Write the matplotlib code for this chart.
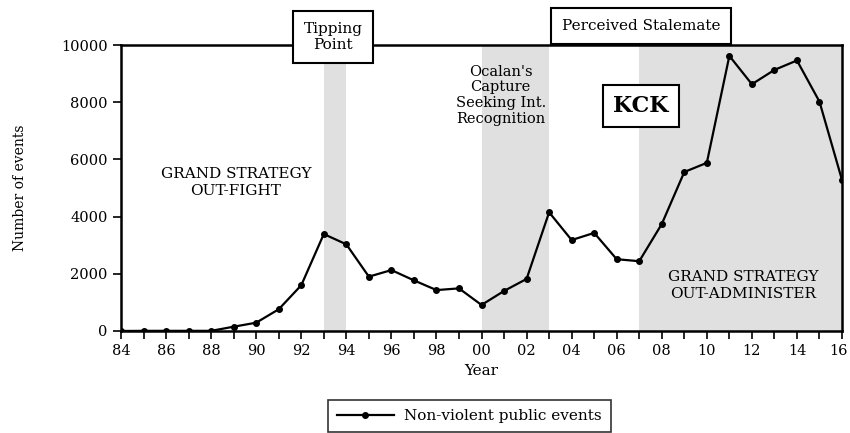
import matplotlib.pyplot as plt
from matplotlib.transforms import ScaledTranslation

# data
years = list(range(1984, 2017))
events = [0, 5, 5, 5, 5, 150, 290, 760, 1600, 3390, 3030, 1900, 2130, 1770,
          1430, 1490, 910, 1400, 1820, 4150, 3180, 3430, 2510, 2440, 3740,
          5560, 5880, 9620, 8630, 9130, 9460, 8020, 5280]
shaded_periods = [(1993, 1994), (2000, 2003), (2007, 2016)]
y_ticks = [0, 2000, 4000, 6000, 8000, 10000]
x_ticks = list(range(1984, 2017, 2))
x_labels = ["%02d" % (y % 100) for y in x_ticks]

plt.rcParams["font.family"] = "DejaVu Serif"

fig = plt.figure(figsize=(8.5, 4.33), dpi=100)
ax = fig.add_axes([0.1424, 0.2356, 0.9906 - 0.1424, 0.896 - 0.2356])

for start, end in shaded_periods:
    ax.axvspan(start, end, color="#e0e0e0", lw=0, zorder=0)

ax.plot(years, events, color="black", lw=1.6, marker="o", markersize=4,
        label="Non-violent public events", zorder=3)

ax.set_xlim(1984, 2016)
ax.set_ylim(0, 10000)
ax.set_xticks(x_ticks)
ax.set_xticklabels(x_labels)
ax.set_xticks(years, minor=True)
ax.set_yticks(y_ticks)
ax.tick_params(axis="both", direction="out", labelsize=10.5, width=1.2, length=6)
ax.tick_params(axis="x", which="minor", direction="out", width=1.2, length=6)
for s in ax.spines.values():
    s.set_linewidth(1.8)

# keep the last year label inside the picture
last = ax.get_xticklabels()[-1]
last.set_transform(last.get_transform() + ScaledTranslation(-4 / 100, 0, fig.dpi_scale_trans))

ax.set_xlabel("Year", fontsize=11)
ax.set_ylabel("Number of events", fontsize=10)
ax.yaxis.set_label_coords(-0.13, 0.5)

ax.text(1989.1, 5200, "GRAND STRATEGY\nOUT-FIGHT", ha="center", va="center",
        fontsize=11, linespacing=1.3)
ax.text(2000.85, 8250, "Ocalan's\nCapture\nSeeking Int.\nRecognition",
        ha="center", va="center", fontsize=10.5, linespacing=1.15)
ax.text(2011.6, 1600, "GRAND STRATEGY\nOUT-ADMINISTER", ha="center",
        va="center", fontsize=11, linespacing=1.3)
ax.text(2007.07, 7870, "KCK", ha="center", va="center", fontsize=16,
        fontweight="bold",
        bbox=dict(boxstyle="square,pad=0.45", fc="white", ec="black", lw=1.5))

fig.text(333 / 850, 1 - 37 / 433, "Tipping\nPoint", ha="center", va="center",
         fontsize=11, linespacing=1.2,
         bbox=dict(boxstyle="square,pad=0.7", fc="white", ec="black", lw=1.5))
fig.text(641 / 850, 1 - 26 / 433, "Perceived Stalemate", ha="center",
         va="center", fontsize=11,
         bbox=dict(boxstyle="square,pad=0.7", fc="white", ec="black", lw=1.5))

leg = fig.legend(loc="upper left", bbox_to_anchor=(328 / 850, 1 - 400 / 433),
                 fontsize=11, frameon=True, fancybox=False, edgecolor="black",
                 handlelength=3.7, handletextpad=0.7, borderpad=0.6,
                 borderaxespad=0)
leg.get_frame().set_linewidth(1.2)

fig.savefig("out.png", dpi=100)
